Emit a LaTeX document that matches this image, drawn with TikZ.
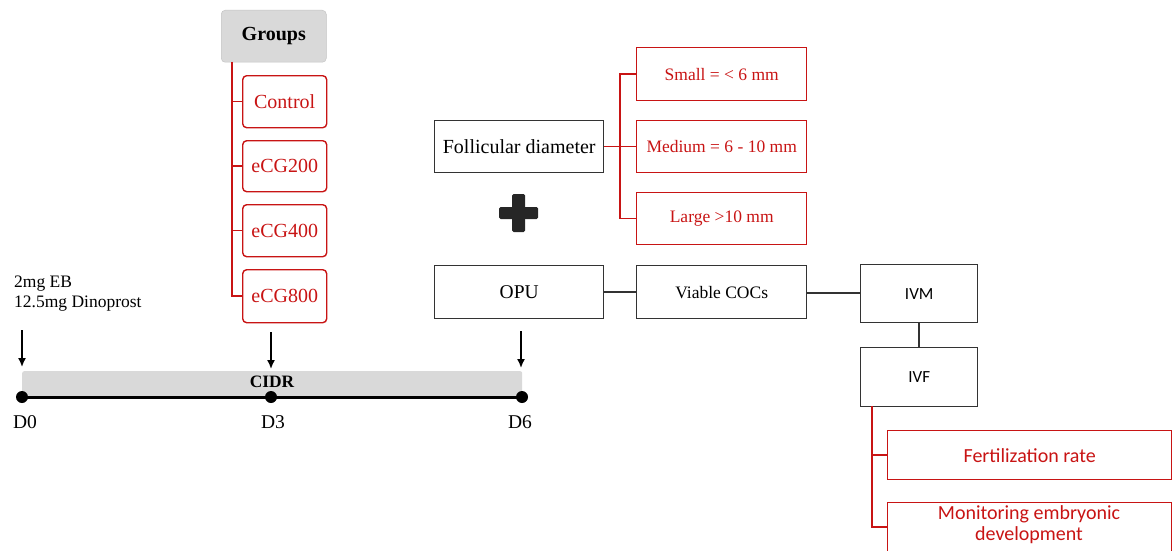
\documentclass[tikz,border=0pt]{standalone}
\usepackage{fontspec}
\usetikzlibrary{arrows.meta}
\setmainfont{Liberation Serif}
\newfontfamily\calib{Carlito}
\definecolor{myred}{RGB}{200,20,20}
\definecolor{mygray}{RGB}{217,217,217}
\definecolor{plusgray}{RGB}{38,38,38}
\begin{document}
\begin{tikzpicture}[x=1pt,y=-1pt,
  redbox/.style={draw=myred,line width=1.4pt,text=myred,inner sep=0pt,anchor=north west},
  blackbox/.style={draw=black!80,line width=1.4pt,inner sep=0pt,anchor=north west},
  redline/.style={draw=myred,line width=1.5pt},
  blackline/.style={draw=black!80,line width=1.5pt},
  tlabel/.style={font=\fontsize{19.5}{22}\selectfont,inner sep=0pt}]
\useasboundingbox (0,0) rectangle (1172,551);
\clip (0,0) rectangle (1172,551);
% Groups
\node[fill=mygray,draw=mygray!90!black,line width=0.5pt,rounded corners=4pt,anchor=north west,minimum width=105pt,minimum height=52pt,inner sep=0pt,font=\fontsize{20}{22}\selectfont\bfseries] (groups) at (221,10) {Groups};
\foreach \n/\t/\y/\h in {ctrl/Control/75/52, g200/eCG200/140/51, g400/eCG400/204/52, g800/eCG800/269/53}{
  \node[redbox,rounded corners=4pt,minimum width=84pt,minimum height=\h pt,font=\fontsize{20}{22}\selectfont] (\n) at (242,\y) {\t};
}
\coordinate (gtop) at (232,62);
\draw[redline] (gtop) |- (g800.west);
\foreach \n in {ctrl,g200,g400}{ \draw[redline] (gtop |- \n.west) -- (\n.west); }
% Injections text
\node[inner sep=0pt,anchor=north west,align=left,font=\fontsize{17.5}{20}\selectfont] (inj) at (14,276) {2mg EB\\12.5mg Dinoprost};
% CIDR bar
\node[fill=mygray,rounded corners=2pt,anchor=north west,minimum width=500pt,minimum height=26pt,inner sep=0pt] (cidr) at (22,371) {};
\node[font=\fontsize{17.4}{20}\selectfont\bfseries,inner sep=0pt] (cidrl) at (272,382) {CIDR};
% timeline
\coordinate (d0) at (22,397);
\coordinate (d3) at (271,397);
\coordinate (d6) at (522,397);
\draw[line width=3pt] (d0) -- (d6);
\foreach \c in {d0,d3,d6}{ \fill (\c) circle (6pt); }
\node[tlabel] (l0) at (25,422) {D0};
\node[tlabel] (l3) at (273,422) {D3};
\node[tlabel] (l6) at (520,422) {D6};
% arrows
\coordinate (a0s) at (22,330); \coordinate (a0e) at (22,367);
\coordinate (a3s) at (271,332); \coordinate (a3e) at (271,369);
\coordinate (a6s) at (521,331); \coordinate (a6e) at (521,368);
\foreach \s/\e in {a0s/a0e,a3s/a3e,a6s/a6e}{ \draw[line width=1.6pt,-{Latex[length=9pt,width=8pt]}] (\s) -- (\e); }
% Follicular diameter
\node[blackbox,minimum width=169pt,minimum height=52pt,font=\fontsize{20}{22}\selectfont] (fol) at (434,120) {Follicular diameter};
\node[redbox,minimum width=170pt,minimum height=53pt,font=\fontsize{17.5}{20}\selectfont] (small) at (636,47) {Small = < 6 mm};
\node[redbox,minimum width=170pt,minimum height=52pt,font=\fontsize{17.5}{20}\selectfont] (medium) at (636,120) {Medium = 6 - 10 mm};
\node[redbox,minimum width=170pt,minimum height=52pt,font=\fontsize{17.5}{20}\selectfont] (large) at (636,192) {Large >10 mm};
\coordinate (fj) at (620,146);
\draw[redline] (fol.east) -- (medium.west);
\draw[redline] (small.west) -| (fj |- large.west) -- (large.west);
% plus
\fill[plusgray,rounded corners=1.5pt] (512,194) rectangle (525,232);
\fill[plusgray,rounded corners=1.5pt] (499,207) rectangle (538,219);
% OPU chain
\node[blackbox,minimum width=169pt,minimum height=53pt,font=\fontsize{19.5}{22}\selectfont] (opu) at (434,265) {OPU};
\node[blackbox,minimum width=170pt,minimum height=53pt,font=\fontsize{17.5}{20}\selectfont] (coc) at (636,265) {Viable COCs};
\node[blackbox,minimum width=117pt,minimum height=58pt,font=\calib\fontsize{17}{20}\selectfont] (ivm) at (860,264) {IVM};
\node[blackbox,minimum width=117pt,minimum height=59pt,font=\calib\fontsize{17}{20}\selectfont] (ivf) at (860,347) {IVF};
\draw[blackline] (opu.east) -- (coc.west);
\draw[blackline] (coc.east |- 0,293) -- (ivm.west |- 0,293);
\draw[blackline] (ivm.south) -- (ivf.south |- ivf.north);
% outcomes
\node[redbox,minimum width=284pt,minimum height=49pt,font=\calib\fontsize{20}{22}\selectfont] (fert) at (887,430) {Fertilization rate};
\node[redbox,minimum width=284pt,minimum height=60pt,anchor=north west] (mon) at (887,502) {};
\node[text=myred,align=center,font=\calib\fontsize{20}{21}\selectfont,inner sep=0pt] (montxt) at (1029,525) {Monitoring embryonic\\development};
\coordinate (ivfb) at (872,406);
\draw[redline] (ivfb) |- (887,527);
\draw[redline] (ivfb |- fert.west) -- (fert.west);
\end{tikzpicture}
\end{document}
